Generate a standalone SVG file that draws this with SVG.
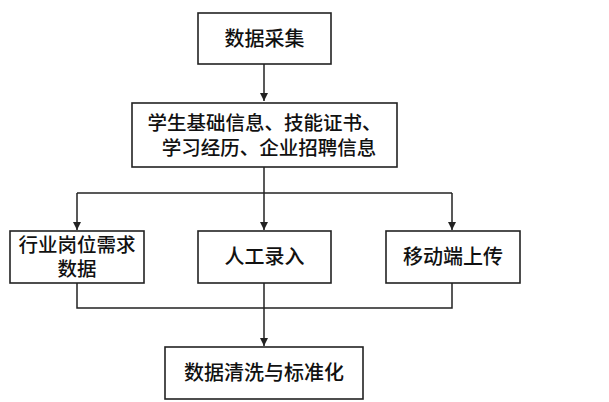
<svg xmlns="http://www.w3.org/2000/svg" width="609" height="402" viewBox="0 0 609 402">
<style>
.box{fill:#fff;stroke:#222;stroke-width:1.6}
.t{font-family:"Noto Sans CJK SC","Noto Sans",sans-serif;font-size:20px;font-weight:500;fill:#111;text-anchor:middle}
.s{font-size:19.5px}
.c{fill:none;stroke:#222;stroke-width:1.5}
</style>
<defs>
<marker id="ah" viewBox="0 0 10 10" refX="10" refY="5" markerWidth="8" markerHeight="8" markerUnits="userSpaceOnUse" orient="auto">
<path d="M0,0 L10,5 L0,10 Z" fill="#222"/>
</marker>
</defs>
<rect width="609" height="402" fill="#fff"/>
<g id="connectors">
<path class="c" d="M264,64 V101" marker-end="url(#ah)"/>
<path class="c" d="M264,167 V230" marker-end="url(#ah)"/>
<path class="c" d="M77,193 H452"/>
<path class="c" d="M77,193 V230" marker-end="url(#ah)"/>
<path class="c" d="M452,193 V230" marker-end="url(#ah)"/>
<path class="c" d="M77,283 V308 H452 V283"/>
<path class="c" d="M264,283 V346" marker-end="url(#ah)"/>
</g>
<g id="n1">
<rect class="box" x="198" y="13" width="133" height="51"/>
<text class="t" x="264.5" y="45.5">数据采集</text>
</g>
<g id="n2">
<rect class="box" x="132" y="103" width="265" height="64"/>
<text class="t s" x="264.5" y="130">学生基础信息、技能证书、</text>
<text class="t s" x="269" y="155">学习经历、企业招聘信息</text>
</g>
<g id="n3">
<rect class="box" x="10" y="231" width="134" height="52"/>
<text class="t s" x="77" y="252">行业岗位需求</text>
<text class="t s" x="77" y="276">数据</text>
</g>
<g id="n4">
<rect class="box" x="198" y="231" width="133" height="52"/>
<text class="t" x="264.5" y="264">人工录入</text>
</g>
<g id="n5">
<rect class="box" x="386" y="231" width="134" height="52"/>
<text class="t" x="453" y="264">移动端上传</text>
</g>
<g id="n6">
<rect class="box" x="165" y="347" width="198" height="52"/>
<text class="t" x="264" y="380">数据清洗与标准化</text>
</g>
</svg>
